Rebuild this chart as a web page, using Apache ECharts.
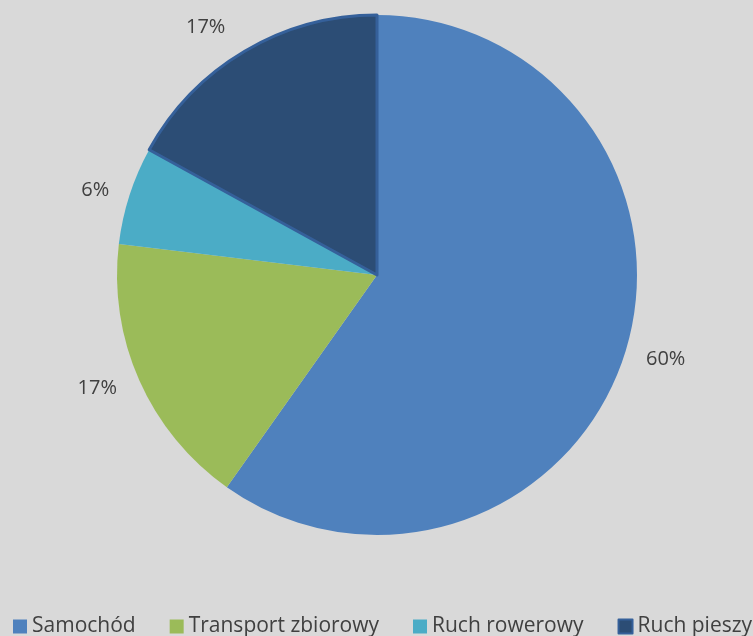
<!DOCTYPE html>
<html><head><meta charset="utf-8">
<script src="https://cdn.jsdelivr.net/npm/echarts@6/dist/echarts.min.js"></script>
<style>html,body{margin:0;padding:0;background:#d9d9d9;}#c{width:753px;height:636px;}</style>
</head><body><div id="c"></div>
<script>
const categories = ['Samochód', 'Transport zbiorowy', 'Ruch rowerowy', 'Ruch pieszy'];
const values = [59.8, 17.1, 6.1, 17.0];
const colors = ['#4f81bd', '#9bbb59', '#4bacc6', '#2c4d75'];
const labelOffsets = [17, 19, 16, 28];

const chart = echarts.init(document.getElementById('c'));
chart.setOption({
  backgroundColor: '#d9d9d9',
  animation: false,
  legend: {
    bottom: -6, left: 8, width: 800, padding: [5, 0, 5, 5],
    itemWidth: 14, itemHeight: 14, itemGap: 34,
    icon: 'rect',
    textStyle: { fontFamily: 'Open Sans', fontSize: 21, color: '#404040' },
    data: categories
  },
  series: [{
    type: 'pie',
    center: [377, 275],
    radius: [0, 260],
    startAngle: 90,
    clockwise: true,
    avoidLabelOverlap: false,
    data: categories.map((n, i) => ({
      name: n, value: values[i],
      labelLine: { length: labelOffsets[i] },
      itemStyle: i === 3 ? { color: colors[i], borderColor: '#35609a', borderWidth: 3 } : { color: colors[i] }
    })),
    label: {
      position: 'outside',
      formatter: p => Math.round(p.percent) + '%',
      fontFamily: 'Open Sans', fontSize: 20, color: '#404040'
    },
    labelLine: { show: false, length: 22, length2: 0 }
  }]
});
</script></body></html>
